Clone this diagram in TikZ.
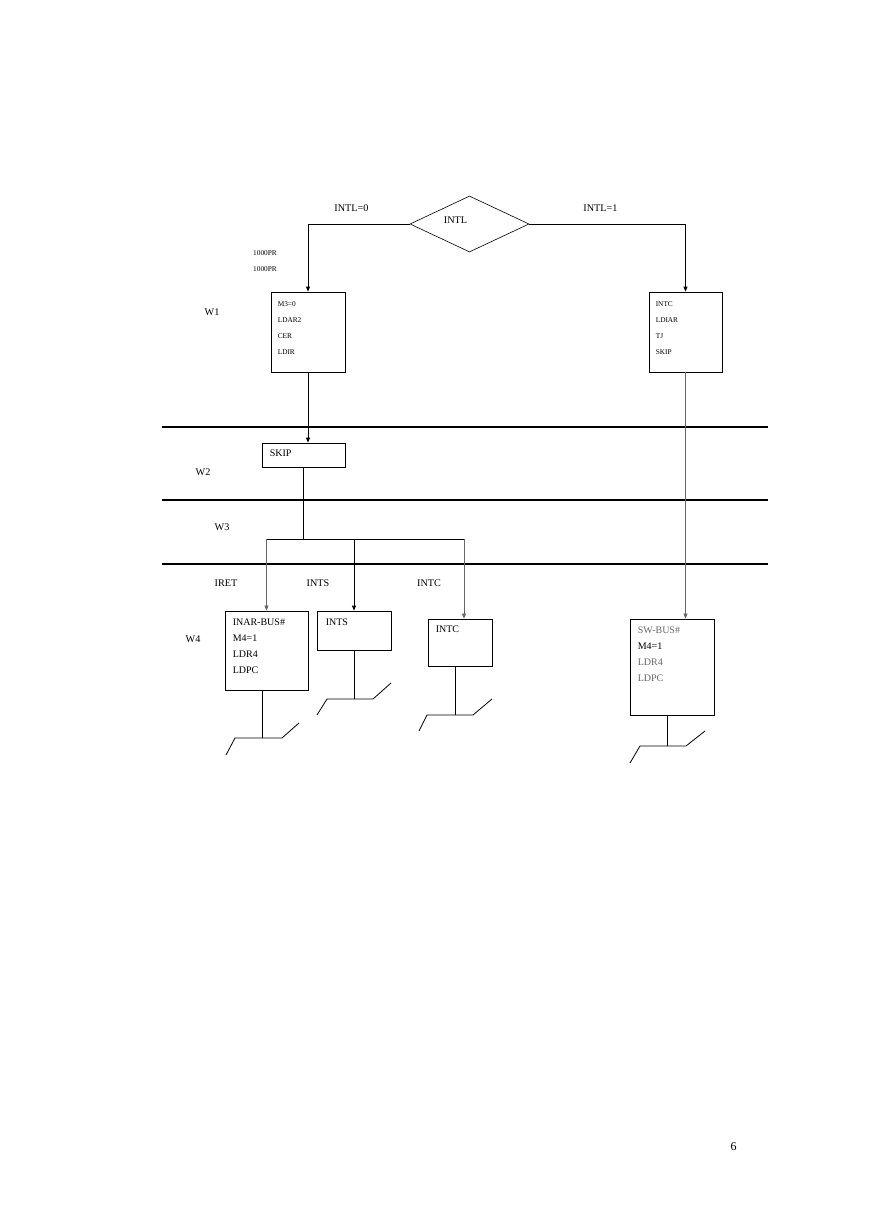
\documentclass[tikz,border=0pt]{standalone}
\usepackage{fontspec}
\setmainfont{Liberation Serif}
\usepackage{tikz}
\usetikzlibrary{shapes.geometric,arrows.meta}

\tikzset{
  box/.style={draw, line width=0.8pt, inner sep=0pt},
  lbl/.style={inner sep=0pt, font=\fontsize{10.2}{16}\selectfont},
  small/.style={inner sep=0pt, anchor=north west, align=left, font=\fontsize{7.3}{16}\selectfont},
  inbox/.style={inner sep=0pt, anchor=north west, align=left, font=\fontsize{10}{16}\selectfont},
  arr/.style={-{Triangle[length=5pt,width=4pt]}},
  sep/.style={line width=1.4pt},
}

\begin{document}
\begin{tikzpicture}[x=1pt,y=1pt,yscale=-1,xscale=1]
\useasboundingbox (0,0) rectangle (869,1228);

% decision
\node [draw, line width=0.6pt, diamond, minimum width=119pt, minimum height=56pt, inner sep=0pt] (intl) at (469.5,224) {};
\node [lbl] (intltext) at (455.5,220) {INTL};
\node [lbl] (intl0) at (351.5,208) {INTL=0};
\node [lbl] (intl1) at (600.5,208) {INTL=1};

% W1 boxes
\node [box, minimum width=74pt, minimum height=80pt] (m3box) at (308,332) {};
\node [small] (m3text) at ([shift={(7,9.5)}]m3box.north west) {M3=0\\LDAR2\\CER\\LDIR};
\node [box, minimum width=73pt, minimum height=80pt] (intcbox) at (685.5,332) {};
\node [small] (intctext) at ([shift={(7,9.5)}]intcbox.north west) {INTC\\LDIAR\\TJ\\SKIP};

\node [small, anchor=center] (pr) at (265,261) {1000PR\\1000PR};
\node [lbl] (w1) at (212,312) {W1};

\draw [arr, line width=0.8pt] (intl.west) -| (m3box.north);
\draw [arr, line width=0.8pt] (intl.east) -| (intcbox.north);

% separators
\draw [sep] (162,427) -- (768,427);
\draw [sep] (162,500) -- (768,500);
\draw [sep] (162,564) -- (768,564);

% W2
\node [box, minimum width=83pt, minimum height=24pt] (skip) at (303.5,455) {};
\node [inbox] (skiptext) at ([shift={(8,7.5)}]skip.north west) {SKIP};
\node [lbl] (w2) at (203,472) {W2};
\draw [arr, line width=0.8pt] (m3box.south) -- (m3box.south |- skip.north);

% W3
\node [lbl] (w3) at (222,527) {W3};
\coordinate (fork) at (303.5,539);
\coordinate (brA) at (266.5,539);
\coordinate (brB) at (354,539);
\coordinate (brC) at (464,539);
\draw [line width=0.8pt] (skip.south) -- (fork);
\draw [line width=0.8pt] (brA) -- (brC);

% W4
\node [lbl] (iret) at (226,583) {IRET};
\node [lbl] (ints) at (318,583) {INTS};
\node [lbl] (intc) at (429,583) {INTC};
\node [lbl] (w4) at (193,639) {W4};

\node [box, minimum width=83pt, minimum height=79pt] (inarbox) at (266.5,650.5) {};
\node [inbox] (inartext) at ([shift={(8,8.5)}]inarbox.north west) {INAR-BUS\#\\M4=1\\LDR4\\LDPC};
\node [box, minimum width=74pt, minimum height=39pt] (intsbox) at (354,630.5) {};
\node [inbox] (intstext) at ([shift={(9,8.5)}]intsbox.north west) {INTS};
\node [box, minimum width=64pt, minimum height=47pt] (intcend) at (460,642.5) {};
\node [inbox] (intcendtext) at ([shift={(8,7.5)}]intcend.north west) {INTC};
\node [box, minimum width=84pt, minimum height=96pt] (swbox) at (672,667) {};
\node [inbox] (swtext) at ([shift={(8,8.5)}]swbox.north west) {\textcolor{black!60}{SW-BUS\#}\\M4=1\\\textcolor{black!60}{LDR4}\\\textcolor{black!60}{LDPC}};

\draw [arr, draw=black!60, line width=0.7pt] (brA) -- (inarbox.north);
\draw [arr, line width=0.8pt] (brB) -- (intsbox.north);
\draw [arr, draw=black!60, line width=0.7pt] (brC) -- (brC |- intcend.north);
\draw [arr, draw=black!60, line width=0.7pt] (intcbox.south) -- (intcbox.south |- swbox.north);

% stands
\draw [line width=0.8pt] ([xshift=-4.5]inarbox.south) -- ++(0,48);
\draw [line width=0.8pt] (226,755) -- (235,738) -- (282,738) -- (299,723);
\draw [line width=0.8pt] (intsbox.south) -- ++(0,49);
\draw [line width=0.8pt] (317,715) -- (327,699) -- (373,699) -- (391,683);
\draw [line width=0.8pt] ([xshift=-5]intcend.south) -- ++(0,49);
\draw [line width=0.8pt] (419,731) -- (427,715) -- (473,715) -- (492,699);
\draw [line width=0.8pt] ([xshift=-5]swbox.south) -- ++(0,31);
\draw [line width=0.8pt] (630,763) -- (640,746) -- (686,746) -- (705,731);

% page number
\node [inner sep=0pt, font=\fontsize{12}{14}\selectfont] (page) at (733.5,1147) {6};

\end{tikzpicture}
\end{document}
